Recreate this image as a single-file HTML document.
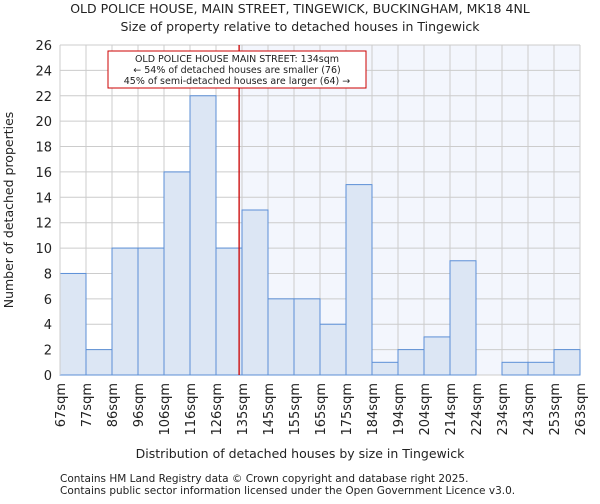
<!DOCTYPE html>
<html><head><meta charset="utf-8"><style>
body{margin:0;background:#fff;font-family:"DejaVu Sans","Liberation Sans",sans-serif}
svg text{font-family:"DejaVu Sans","Liberation Sans",sans-serif;fill:#222}
</style></head><body>
<svg id="c" width="600" height="500" viewBox="0 0 600 500">
<text x="300" y="13" text-anchor="middle" font-size="12.5">OLD POLICE HOUSE, MAIN STREET, TINGEWICK, BUCKINGHAM, MK18 4NL</text>
<text x="300" y="31" text-anchor="middle" font-size="12.5">Size of property relative to detached houses in Tingewick</text>
<rect id="shade" x="240" y="45" width="340" height="330" fill="#f3f6fd"/>
<g id="grid"></g><g id="bars"></g><g id="axes"></g>
<line id="marker" y1="45" y2="375" stroke="#cc0000" stroke-width="1.3"/>
<rect x="108" y="51" width="258" height="37" fill="#fff" stroke="#cc0000" stroke-width="1"/>
<text x="237" y="62" text-anchor="middle" font-size="9.5">OLD POLICE HOUSE MAIN STREET: 134sqm</text>
<text x="237" y="73" text-anchor="middle" font-size="9.5">← 54% of detached houses are smaller (76)</text>
<text x="237" y="84" text-anchor="middle" font-size="9.5">45% of semi-detached houses are larger (64) →</text>
<text x="300" y="458" text-anchor="middle" font-size="12.5">Distribution of detached houses by size in Tingewick</text>
<text transform="translate(13,210) rotate(-90)" text-anchor="middle" font-size="12.5">Number of detached properties</text>
<text x="60" y="482" font-size="10.5">Contains HM Land Registry data © Crown copyright and database right 2025.</text>
<text x="60" y="494" font-size="10.5">Contains public sector information licensed under the Open Government Licence v3.0.</text>
</svg>
<script>
const categories=["67sqm","77sqm","86sqm","96sqm","106sqm","116sqm","126sqm","135sqm","145sqm","155sqm","165sqm","175sqm","184sqm","194sqm","204sqm","214sqm","224sqm","234sqm","243sqm","253sqm","263sqm"];
const counts=[8,2,10,10,16,22,10,13,6,6,4,15,1,2,3,9,0,1,1,2];
const yTicks=[0,2,4,6,8,10,12,14,16,18,20,22,24,26];
const markerBin=6+8/9;
const L=60,R=580,T=45,B=375,yMax=26;
const bw=(R-L)/counts.length;
const xs=i=>L+i*bw, ys=v=>B-(v/yMax)*(B-T);
const NS="http://www.w3.org/2000/svg";
function mk(t,a,p){const e=document.createElementNS(NS,t);for(const k in a)e.setAttribute(k,a[k]);document.getElementById(p).appendChild(e);return e;}
yTicks.forEach(v=>{
 const g=mk("line",{x1:L,x2:R,y1:ys(v),y2:ys(v),stroke:"#cccccc","stroke-width":1},"grid");
 
 
 const t=mk("text",{x:L-8,y:ys(v)+5,"text-anchor":"end","font-size":13},"axes");
 t.textContent=v;
 
 
});
categories.forEach((c,i)=>{
 const g=mk("line",{x1:xs(i),x2:xs(i),y1:T,y2:B,stroke:"#cccccc","stroke-width":1},"grid");
 
 
 const t=mk("text",{transform:`translate(${xs(i)+5},${B+8}) rotate(-90)`,"text-anchor":"end","font-size":13},"axes");
 t.textContent=c;
 
 
});
counts.forEach((v,i)=>{
 if(v<=0)return;
 const r=mk("rect",{x:xs(i),y:ys(v),width:bw,height:B-ys(v),fill:"#dce6f4",stroke:"#5b8fd6","stroke-width":1},"bars");
 
 
});
const ax=mk("line",{x1:L,x2:L,y1:T,y2:B,stroke:"#cccccc"},"axes");


const mx=xs(markerBin);
const m=document.getElementById("marker");
m.setAttribute("x1",mx);m.setAttribute("x2",mx);
const sh=document.getElementById("shade");
sh.setAttribute("x",mx);sh.setAttribute("width",R-mx);
</script>
</body></html>
